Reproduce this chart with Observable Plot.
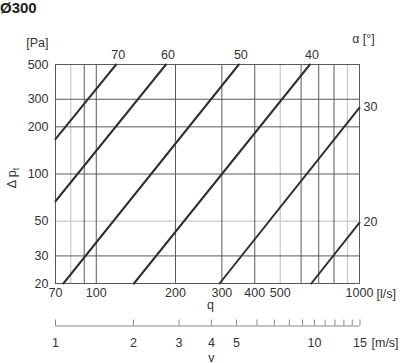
<!DOCTYPE html>
<html>
<head>
<meta charset="utf-8">
<script src="https://cdn.jsdelivr.net/npm/d3@7"></script>
<script src="https://cdn.jsdelivr.net/npm/@observablehq/plot@0.6"></script>
<style>
  html, body { margin: 0; padding: 0; background: #fff; }
  #wrap { position: relative; width: 400px; height: 363px; font-family: "Liberation Sans", Arial, Helvetica, sans-serif; color: #333; }
  #title { position: absolute; left: 0px; top: -1px; font-weight: bold; font-size: 15px; color: #222; }
  svg { display: block; }
</style>
</head>
<body>
<div id="wrap"><div id="title">Ø300</div></div>
<script>
// Curve parameters (opening angle α in degrees) and line endpoints
const alphas  = [70, 60, 50, 40, 30, 20];
const qStart  = [70, 70, 75, 139, 294, 656];   // l/s
const dpStart = [167, 67, 20, 20, 20, 20];     // Pa
const qEnd    = [119, 184, 348, 648, 1000, 1000];
const dpEnd   = [500, 500, 500, 500, 265, 49];

// Axis ticks and grid
const qTicks      = [70, 100, 200, 300, 400, 500, 1000];
const dpTicks     = [20, 30, 50, 100, 200, 300, 500];
const qGridDark   = [90, 100, 200, 300, 400, 600, 700, 800];
const qGridLight  = [80, 500, 900];
const dpGridDark  = [30, 100, 200, 300];
const dpGridLight = [50];
const vTicks      = [1, 2, 3, 4, 5, 6, 7, 8, 9, 10, 11, 12, 13, 14, 15];
const vLabels     = [1, 2, 3, 4, 5, 10, 15];

const rows = [];
alphas.forEach((a, i) => {
  rows.push({alpha: a, q: qStart[i], dp: dpStart[i]});
  rows.push({alpha: a, q: qEnd[i], dp: dpEnd[i]});
});
const ends = alphas.map((a, i) => ({alpha: a, q: qEnd[i], dp: dpEnd[i], top: dpEnd[i] >= 500}));

const font = "'Liberation Sans', Arial, Helvetica, sans-serif";
const ink = "#333";
const gridDark = "#5a5a5a";
const gridLight = "#c8c8c8";

const main = Plot.plot({
  width: 400, height: 310,
  marginTop: 64, marginRight: 41, marginBottom: 27, marginLeft: 55,
  style: {fontFamily: font, fontSize: "12.5px", color: ink, background: "transparent", overflow: "visible"},
  x: {type: "log", domain: [70, 1000]},
  y: {type: "log", domain: [20, 500]},
  marks: [
    Plot.ruleX(qGridLight, {x: d => d, stroke: gridLight, strokeWidth: 1.2}),
    Plot.ruleY(dpGridLight, {y: d => d, stroke: gridLight, strokeWidth: 1.2}),
    Plot.ruleX(qGridDark, {x: d => d, stroke: gridDark, strokeWidth: 1}),
    Plot.ruleY(dpGridDark, {y: d => d, stroke: gridDark, strokeWidth: 1}),
    Plot.frame({stroke: gridDark}),
    Plot.line(rows, {x: "q", y: "dp", z: "alpha", stroke: "#303030", strokeWidth: 2}),
    Plot.text(ends.filter(d => d.top), {x: "q", y: "dp", text: d => String(d.alpha), dx: 2, dy: -10, fill: ink}),
    Plot.text(ends.filter(d => !d.top), {x: "q", y: "dp", text: d => String(d.alpha), dx: 4, dy: -1, textAnchor: "start", fill: ink}),
    Plot.axisX({ticks: qTicks, tickSize: 0, tickPadding: 5, tickFormat: d => String(d), label: null, fill: ink}),
    Plot.axisY({ticks: dpTicks, tickSize: 0, tickPadding: 7, tickFormat: d => String(d), label: null, fill: ink}),
    Plot.text(["[Pa]"], {text: d => d, frameAnchor: "top-left", lineAnchor: "middle", textAnchor: "end", dx: -7, dy: -22, fill: ink}),
    Plot.text(["α [°]"], {text: d => d, frameAnchor: "top-right", lineAnchor: "middle", textAnchor: "middle", dx: 4, dy: -26, fill: ink}),
    Plot.text(["[l/s]"], {text: d => d, frameAnchor: "bottom-right", lineAnchor: "middle", textAnchor: "start", dx: 17, dy: 10, fill: ink}),
    Plot.text(["q"], {text: d => d, frameAnchor: "bottom", lineAnchor: "middle", textAnchor: "middle", dx: 3, dy: 21, fill: ink}),
    Plot.text(["Δ pt"], {text: d => d, frameAnchor: "left", lineAnchor: "middle", textAnchor: "middle", dx: -43.5, dy: 4, rotate: -90, fill: ink})
  ]
});

// subscript t in the y label
d3.select(main).selectAll("text").filter(function() { return this.textContent === "Δ pt"; })
  .each(function() {
    const t = d3.select(this);
    t.text("Δ p");
    t.append("tspan").attr("font-size", "9px").attr("dy", "0.3em").text("t");
  });

const vAxis = Plot.plot({
  width: 400, height: 53,
  marginTop: 9.5, marginRight: 40.5, marginBottom: 37.5, marginLeft: 55,
  style: {fontFamily: font, fontSize: "12.5px", color: ink, background: "transparent", overflow: "visible"},
  x: {type: "log", domain: [1, 15]},
  y: {domain: [0, 1], axis: null},
  marks: [
    Plot.ruleX(vTicks, {x: d => d, y1: 0, y2: 1, stroke: "#888"}),
    Plot.ruleY([0], {y: d => d, x1: 1, x2: 15, stroke: "#888"}),
    Plot.axisX({ticks: vLabels, tickSize: 0, tickPadding: 12, tickFormat: d => String(d), label: null, fill: ink}),
    Plot.text(["[m/s]"], {text: d => d, frameAnchor: "bottom-right", lineAnchor: "middle", textAnchor: "start", dx: 11.5, dy: 16.5, fill: ink}),
    Plot.text(["v"], {text: d => d, frameAnchor: "bottom", lineAnchor: "middle", textAnchor: "middle", dx: 3.5, dy: 31.5, fill: ink})
  ]
});

const wrap = document.getElementById("wrap");
wrap.appendChild(main);
wrap.appendChild(vAxis);
</script>
</body>
</html>
